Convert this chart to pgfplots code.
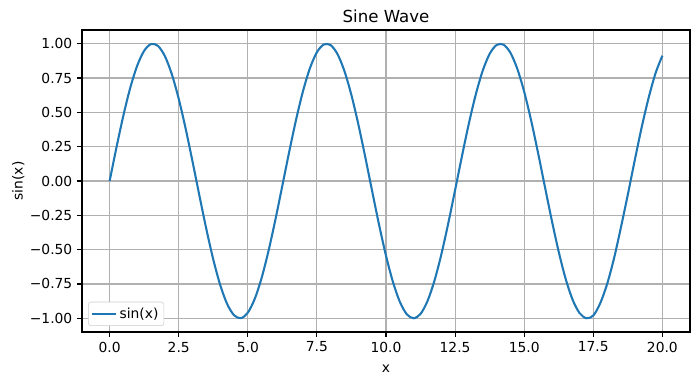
\documentclass[border=0pt]{standalone}
\usepackage{fontspec}
\setmainfont{DejaVu Sans}
\usepackage{pgfplots}
\pgfplotsset{compat=1.18}
\definecolor{mplblue}{HTML}{1F77B4}
\begin{document}
\fontsize{10}{12}\selectfont
\begin{tikzpicture}
\begin{axis}[
  scale only axis,
  width=6.08in, height=3.02in,
  xmin=-1, xmax=21, ymin=-1.1, ymax=1.1,
  xtick={0,2.5,5,7.5,10,12.5,15,17.5,20},
  xticklabels={0.0,2.5,5.0,7.5,10.0,12.5,15.0,17.5,20.0},
  ytick={-1,-0.75,-0.5,-0.25,0,0.25,0.5,0.75,1},
  yticklabels={−1.00,−0.75,−0.50,−0.25,0.00,0.25,0.50,0.75,1.00},
  tick align=outside, tick pos=left,
  major tick length=3.5pt,
  tick style={black, line width=0.8pt},
  grid=major,
  grid style={color=black!31, line width=0.8pt},
  axis line style={line width=0.8pt},
  xlabel={x}, ylabel={sin(x)},
  title={\fontsize{12}{14}\selectfont Sine Wave},
  title style={yshift=-4pt},
  xlabel style={yshift=-2pt},
  ylabel style={yshift=-3pt},
  legend cell align=left,
  legend style={draw=black!20, rounded corners=2pt, font=\fontsize{10}{12}\selectfont, inner sep=2pt, at={(0.01,0.02)}, anchor=south west},
  legend image post style={line width=1.5pt},
]
\addplot[color=mplblue, line width=1.5pt, smooth] coordinates {
(0,0) (0.25,0.247404) (0.5,0.479426) (0.75,0.681639) (1,0.841471)
(1.25,0.948985) (1.5,0.997495) (1.75,0.983986) (2,0.909297) (2.25,0.778073)
(2.5,0.598472) (2.75,0.381661) (3,0.141120) (3.25,-0.108195) (3.5,-0.350783)
(3.75,-0.571561) (4,-0.756802) (4.25,-0.894989) (4.5,-0.977530) (4.75,-0.999293)
(5,-0.958924) (5.25,-0.858934) (5.5,-0.705540) (5.75,-0.508279) (6,-0.279415)
(6.25,-0.033179) (6.5,0.215120) (6.75,0.450044) (7,0.656987) (7.25,0.823081)
(7.5,0.938000) (7.75,0.994599) (8,0.989358) (8.25,0.922604) (8.5,0.798487)
(8.75,0.624723) (9,0.412118) (9.25,0.173890) (9.5,-0.075151) (9.75,-0.319519)
(10,-0.544021) (10.25,-0.734698) (10.5,-0.879696) (10.75,-0.970296) (11,-0.999990)
(11.25,-0.967978) (11.5,-0.875452) (11.75,-0.728591) (12,-0.536573) (12.25,-0.311119)
(12.5,-0.066322) (12.75,0.182599) (13,0.420167) (13.25,0.631640) (13.5,0.803784)
(13.75,0.925988) (14,0.990607) (14.25,0.993524) (14.5,0.934895) (14.75,0.817826)
(15,0.650288) (15.25,0.442102) (15.5,0.206467) (15.75,-0.042025) (16,-0.287903)
(16.25,-0.515882) (16.5,-0.712153) (16.75,-0.863520) (17,-0.961397) (17.25,-0.999630)
(17.5,-0.979982) (17.75,-0.891270) (18,-0.750987) (18.25,-0.564257) (18.5,-0.338333)
(18.75,-0.099392) (19,0.149877) (19.25,0.389817) (19.5,0.603256) (19.75,0.783400)
(20,0.912945)
};
\addlegendentry{sin(x)}
\end{axis}
\path[use as bounding box] (current axis.south west) ++(-0.82in,-0.52in) rectangle ++(7in,3.84in);
\end{tikzpicture}
\end{document}
